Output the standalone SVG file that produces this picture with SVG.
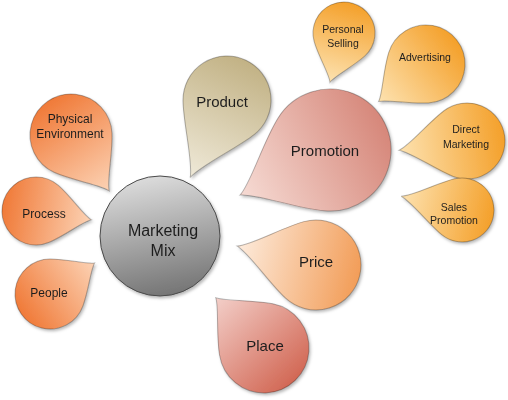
<svg xmlns="http://www.w3.org/2000/svg" xmlns:xlink="http://www.w3.org/1999/xlink" width="508" height="400" viewBox="0 0 508 400">
<style>
.blob{stroke:#000;stroke-opacity:0.28}
.t{font-family:"Liberation Sans",Arial,sans-serif;fill:#1e1e1e;text-anchor:middle}
.big{font-size:15px}
.mid{font-size:12px}
.sm{font-size:10.5px}
</style>
<defs>
<path id="t155" d="M1.55,0 C1.36,0.08 0.984,0.532 0.574,0.819 A1,1 0 1 1 0.574,-0.819 C0.984,-0.532 1.36,-0.08 1.55,0 Z"/>
<path id="t165" d="M1.65,0 C1.42,0.08 0.954,0.583 0.530,0.848 A1,1 0 1 1 0.530,-0.848 C0.954,-0.583 1.42,-0.08 1.65,0 Z"/>
<path id="t18" d="M1.8,0 C1.52,0.08 0.922,0.633 0.485,0.875 A1,1 0 1 1 0.485,-0.875 C0.922,-0.633 1.52,-0.08 1.8,0 Z"/>
<path id="t195" d="M1.95,0 C1.62,0.08 0.887,0.680 0.438,0.899 A1,1 0 1 1 0.438,-0.899 C0.887,-0.680 1.62,-0.08 1.95,0 Z"/>
<linearGradient id="gOrange" x1="0" y1="0" x2="1" y2="0"><stop offset="0" stop-color="#f07a38"/><stop offset="1" stop-color="#fcd2b4"/></linearGradient>
<linearGradient id="gTan" x1="0" y1="0" x2="1" y2="0"><stop offset="0" stop-color="#c2b285"/><stop offset="1" stop-color="#efe9d8"/></linearGradient>
<linearGradient id="gRose" x1="0" y1="0" x2="1" y2="0"><stop offset="0" stop-color="#d6877a"/><stop offset="1" stop-color="#f6dbd4"/></linearGradient>
<linearGradient id="gAmber" x1="0" y1="0" x2="1" y2="0"><stop offset="0" stop-color="#f4a02a"/><stop offset="1" stop-color="#fde2b0"/></linearGradient>
<linearGradient id="gPeach" x1="0" y1="0" x2="1" y2="0"><stop offset="0" stop-color="#f29d58"/><stop offset="1" stop-color="#fdebdc"/></linearGradient>
<linearGradient id="gRed" x1="0" y1="0" x2="1" y2="0"><stop offset="0" stop-color="#d26855"/><stop offset="1" stop-color="#f3cfc9"/></linearGradient>
<linearGradient id="gGray" x1="0.3" y1="0" x2="0.5" y2="1"><stop offset="0" stop-color="#dedede"/><stop offset="1" stop-color="#767676"/></linearGradient>
<filter id="sh" x="-20%" y="-20%" width="150%" height="150%"><feDropShadow dx="1.5" dy="2" stdDeviation="1.5" flood-color="#000" flood-opacity="0.28"/></filter>
</defs>
<g id="connectors"/>
<g id="n-physical" filter="url(#sh)"><use href="#t165" class="blob" fill="url(#gOrange)" transform="translate(71,135) rotate(55.6) scale(41)" style="stroke-width:0.025"/><text class="t mid" x="70" y="123">Physical</text><text class="t mid" x="70" y="138">Environment</text></g>
<g id="n-process" filter="url(#sh)"><use href="#t165" class="blob" fill="url(#gOrange)" transform="translate(36,211) rotate(9.1) scale(34)" style="stroke-width:0.03"/><text class="t mid" x="44" y="218">Process</text></g>
<g id="n-people" filter="url(#sh)"><use href="#t155" class="blob" fill="url(#gOrange)" transform="translate(50,294) rotate(-34.8) scale(35)" style="stroke-width:0.029"/><text class="t mid" x="49" y="297">People</text></g>
<g id="n-product" filter="url(#sh)"><use href="#t195" class="blob" fill="url(#gTan)" transform="translate(227,100) rotate(115.4) scale(44)" style="stroke-width:0.023"/><text class="t big" x="222" y="107">Product</text></g>
<g id="n-promotion" filter="url(#sh)"><use href="#t165" class="blob" fill="url(#gRose)" transform="translate(330,150) rotate(153.4) scale(61)" style="stroke-width:0.016"/><text class="t big" x="325" y="156">Promotion</text></g>
<g id="n-personal" filter="url(#sh)"><use href="#t165" class="blob" fill="url(#gAmber)" transform="translate(344,33) rotate(105.9) scale(31)" style="stroke-width:0.032"/><text class="t sm" x="343" y="33">Personal</text><text class="t sm" x="343" y="47">Selling</text></g>
<g id="n-advertising" filter="url(#sh)"><use href="#t155" class="blob" fill="url(#gAmber)" transform="translate(426,64) rotate(141.6) scale(39)" style="stroke-width:0.026"/><text class="t sm" x="425" y="61">Advertising</text></g>
<g id="n-direct" filter="url(#sh)"><use href="#t18" class="blob" fill="url(#gAmber)" transform="translate(467,141) rotate(172.3) scale(38)" style="stroke-width:0.026"/><text class="t sm" x="466" y="133">Direct</text><text class="t sm" x="466" y="148">Marketing</text></g>
<g id="n-sales" filter="url(#sh)"><use href="#t195" class="blob" fill="url(#gAmber)" transform="translate(462,210) rotate(192.7) scale(32)" style="stroke-width:0.031"/><text class="t sm" x="454" y="211">Sales</text><text class="t sm" x="454" y="224">Promotion</text></g>
<g id="n-price" filter="url(#sh)"><use href="#t18" class="blob" fill="url(#gPeach)" transform="translate(316,265) rotate(193.5) scale(45)" style="stroke-width:0.022"/><text class="t big" x="316" y="267">Price</text></g>
<g id="n-place" filter="url(#sh)"><use href="#t155" class="blob" fill="url(#gRed)" transform="translate(264,348) rotate(226.2) scale(45)" style="stroke-width:0.022"/><text class="t big" x="265" y="351">Place</text></g>
<g id="n-mix" filter="url(#sh)"><circle cx="160" cy="236" r="60" fill="url(#gGray)" stroke="#4a4a4a" stroke-width="1"/><text class="t" style="font-size:16px" x="163" y="236">Marketing</text><text class="t" style="font-size:16px" x="163" y="256">Mix</text></g>
</svg>
